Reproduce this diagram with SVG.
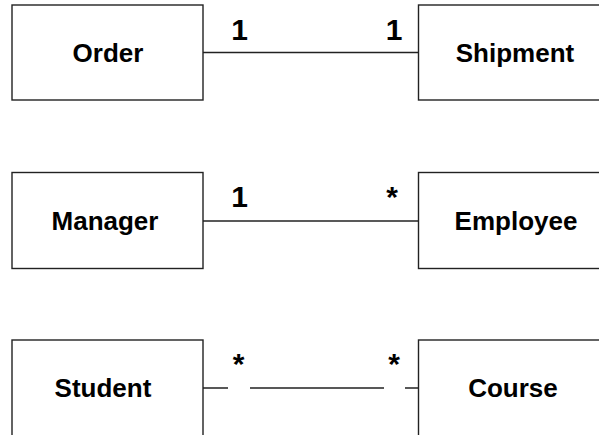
<svg xmlns="http://www.w3.org/2000/svg" width="599" height="435" viewBox="0 0 599 435">
<style>
.box{fill:#fff;stroke:#222;stroke-width:1.4}
.name{font-family:"Liberation Sans",Arial,sans-serif;font-weight:bold;font-size:26px;fill:#000;text-anchor:middle}
.mult{font-family:"Liberation Sans",Arial,sans-serif;font-weight:bold;font-size:30px;fill:#000;text-anchor:middle}
.conn{fill:none;stroke:#222;stroke-width:1.4}
</style>
<rect width="599" height="435" fill="#fff"/>
<g id="connectors">
<path class="conn" d="M203 52.5H418.5"/>
<path class="conn" d="M203 221H418.5"/>
<path class="conn" d="M203 388H228M250 388H384M405 388H418.5"/>
</g>
<g id="order"><rect class="box" x="12" y="5" width="191" height="95"/><text class="name" x="108" y="62">Order</text></g>
<g id="shipment"><rect class="box" x="418.5" y="5" width="194" height="95"/><text class="name" x="515" y="62">Shipment</text></g>
<g id="manager"><rect class="box" x="12" y="172.5" width="191" height="96"/><text class="name" x="105" y="229.5">Manager</text></g>
<g id="employee"><rect class="box" x="418.5" y="172.5" width="194" height="96"/><text class="name" x="516" y="229.5">Employee</text></g>
<g id="student"><rect class="box" x="12" y="340" width="191" height="100"/><text class="name" x="103" y="397">Student</text></g>
<g id="course"><rect class="box" x="418.5" y="340" width="194" height="100"/><text class="name" x="513" y="397">Course</text></g>
<g id="multiplicities">
<text class="mult" x="239.5" y="40">1</text>
<text class="mult" x="394" y="40">1</text>
<text class="mult" x="239.5" y="207">1</text>
<text class="mult" x="392" y="207">*</text>
<text class="mult" x="238.5" y="373.5">*</text>
<text class="mult" x="394" y="373.5">*</text>
</g>
</svg>
